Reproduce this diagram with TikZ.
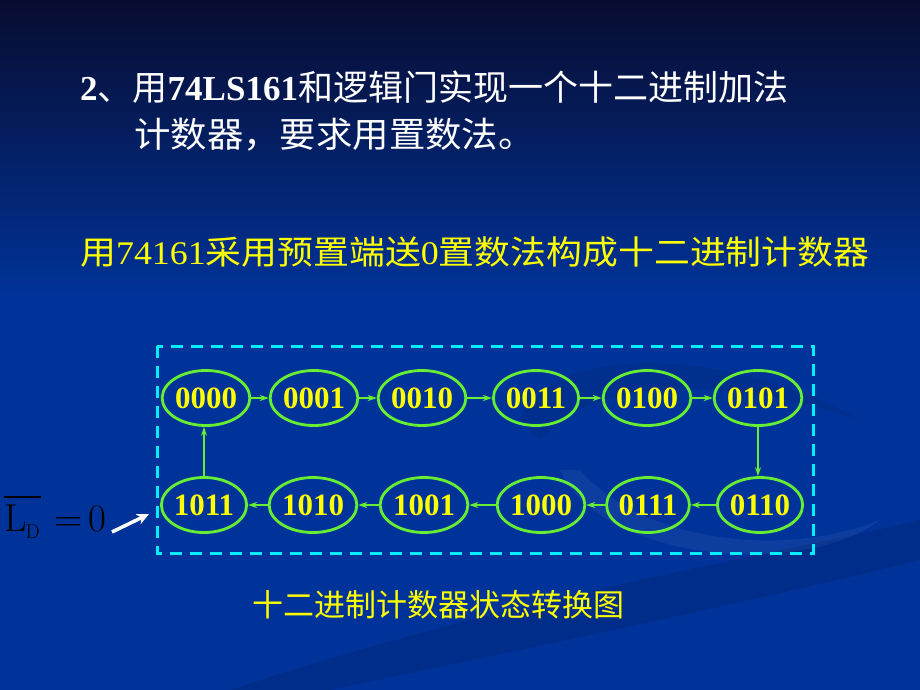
\documentclass[tikz,border=0pt]{standalone}
\usepackage{fontspec}
\usepackage{graphicx}
\setmainfont{Liberation Serif}
\newfontfamily\cjk{Noto Sans CJK SC}
\newfontfamily\lmr{Latin Modern Roman}
\usetikzlibrary{arrows.meta,shapes.geometric}
\definecolor{bgblue}{RGB}{0,51,153}
\definecolor{bgtop}{RGB}{8,12,48}
\definecolor{stgreen}{RGB}{102,238,51}
\definecolor{dcyan}{RGB}{0,240,255}
\definecolor{ytext}{RGB}{255,255,0}
\tikzset{
  st/.style={ellipse,draw=stgreen,line width=2.8pt,minimum width=82pt,minimum height=55pt,inner sep=0pt,
    font=\fontsize{31}{31}\selectfont\bfseries,text=ytext},
  tr/.style={draw=stgreen,line width=2.6pt,-{Stealth[length=9pt,width=6pt]}},
  ttl/.style={text=white,anchor=west,inner sep=0pt,font=\fontsize{35}{35}\selectfont},
  ylw/.style={text=ytext,anchor=west,inner sep=0pt},
}
\begin{document}
\begin{tikzpicture}[x=1pt,y=-1pt]
\useasboundingbox (0,0) rectangle (920,690);
% background
\fill[bgblue] (0,0) rectangle (920,690);
\shade[top color=bgtop,bottom color=bgblue] (0,0) rectangle (920,300);
% faint swooshes
\fill[black,opacity=0.10] (230,690) .. controls (500,600) and (750,560) .. (920,520) -- (920,560) .. controls (760,600) and (520,650) .. (330,690) -- cycle;
\fill[black,opacity=0.08] (520,420) .. controls (560,330) and (760,360) .. (860,420) .. controls (740,380) and (600,370) .. (540,440) -- cycle;
\fill[white,opacity=0.05] (560,470) .. controls (600,560) and (800,580) .. (880,520) .. controls (780,560) and (640,540) .. (580,470) -- cycle;
% titles
\node[ttl] (t1) at (80,87) {\textbf{2}{\cjk 、用}\textbf{74LS161}{\cjk 和逻辑门实现一个十二进制加法}};
\node[ttl] (t2) at (134,135) {\scalebox{1.04}[1]{\cjk 计数器，要求用置数法。}};
% yellow subtitle
\node[ylw,font=\fontsize{33}{33}\selectfont] (sub) at (80,252) {\scalebox{1.087}[1]{{\cjk 用}74161{\cjk 采用预置端送}0{\cjk 置数法构成十二进制计数器}}};
% dashed frame
\draw[dcyan,line width=3pt,dash pattern=on 12pt off 8pt] (157,346) rectangle (813,553);
% states
\node[st] (s0) at (206,398) {0000};
\node[st] (s1) at (314,398) {0001};
\node[st] (s2) at (422,398) {0010};
\node[st] (s3) at (536,398) {0011};
\node[st] (s4) at (647,398) {0100};
\node[st] (s5) at (758,398) {0101};
\node[st] (s6) at (760,505) {0110};
\node[st] (s7) at (648,505) {0111};
\node[st] (s8) at (541,505) {1000};
\node[st] (s9) at (424,505) {1001};
\node[st] (s10) at (313,505) {1010};
\node[st] (s11) at (204,505) {1011};
\draw[tr] (s0) -- (s1);
\draw[tr] (s1) -- (s2);
\draw[tr] (s2) -- (s3);
\draw[tr] (s3) -- (s4);
\draw[tr] (s4) -- (s5);
\draw[tr] (s5.south) -- (s5.south |- s6.north);
\draw[tr] (s6) -- (s7);
\draw[tr] (s7) -- (s8);
\draw[tr] (s8) -- (s9);
\draw[tr] (s9) -- (s10);
\draw[tr] (s10) -- (s11);
\draw[tr] (s11.north) -- (s11.north |- s0.south);
% LD label
\node[anchor=base west,inner sep=0pt,text=black,font=\lmr\fontsize{39}{39}\selectfont] (ld) at (4,531)
  {L\kern-1pt\raisebox{-7pt}{\fontsize{20}{20}\selectfont D}};
\draw[black,line width=1.6pt] ([yshift=7pt]ld.north west) -- ([yshift=7pt,xshift=1pt]ld.north east);
\node[anchor=base west,inner sep=0pt,text=black,font=\lmr\fontsize{39}{39}\selectfont] (eq) at (54,531) {=\,0};
\coordinate (ldtip) at (149,514);
\draw[white,line width=3.5pt,-{Stealth[length=12pt,width=11pt]}] (112,532) -- (ldtip);
% caption
\node[ylw,font=\fontsize{31}{31}\selectfont] (cap) at (252,605) {\cjk 十二进制计数器状态转换图};
\end{tikzpicture}
\end{document}
